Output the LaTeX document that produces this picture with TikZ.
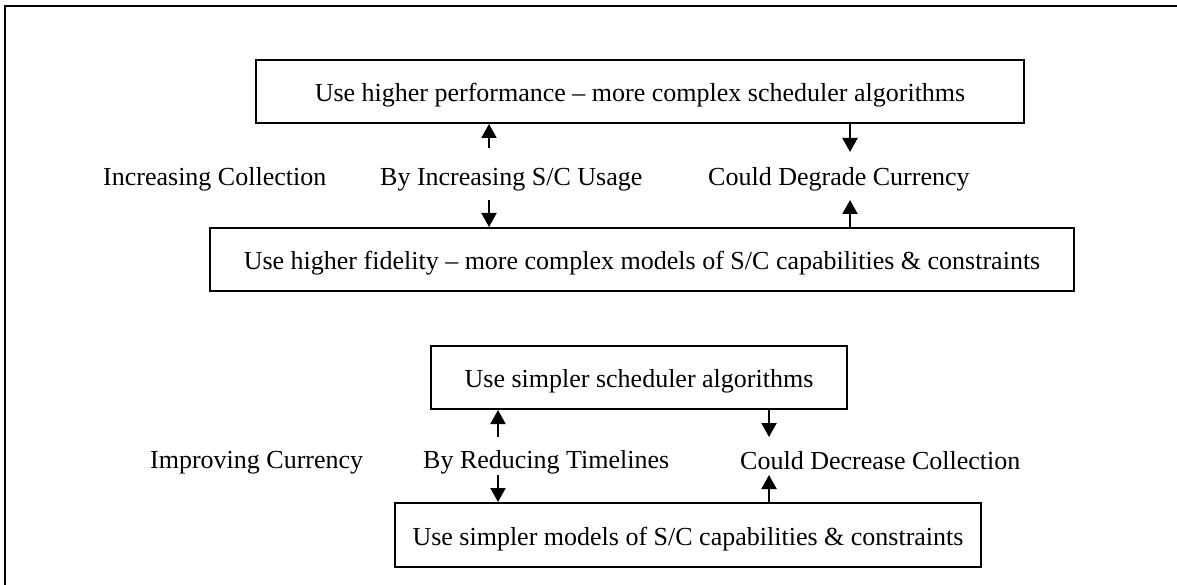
\documentclass[tikz,border=0pt]{standalone}
\usepackage{fontspec}
\setmainfont{Liberation Serif}
\usetikzlibrary{arrows.meta}
\begin{document}
\begin{tikzpicture}[x=1pt,y=-1pt,
  font=\fontsize{26}{30}\selectfont,
  box/.style={draw, line width=2pt, inner sep=0pt, text height=20pt, text depth=0pt, minimum height=63pt},
  lbl/.style={anchor=base west, inner sep=0pt},
  arr/.style={line width=2pt, -{Triangle[width=15pt,length=14pt]}},
  frame/.style={line width=2pt}]
\useasboundingbox (0,0) rectangle (1177,585);

% partial frame (top and left edges)
\draw[frame] (5,585) -- (5,6) -- (1177,6);

% upper group: increasing collection
\node[box, minimum width=768pt] (hiperf) at (640,91.5) {Use higher performance -- more complex scheduler algorithms};
\node[box, minimum width=864pt] (hifid) at (642,259.5) {Use higher fidelity -- more complex models of S/C capabilities \& constraints};

\node[lbl] (inccoll) at (103,186) {Increasing Collection};
\node[lbl] (incuse) at (380,186) {By Increasing S/C Usage};
\node[lbl] (degcur) at (708,186) {Could Degrade Currency};

\coordinate (u1) at (489,148);
\coordinate (u2) at (489,200);
\coordinate (u3) at (850,152);
\coordinate (u4) at (850,200);
\draw[arr] (u1) -- (hiperf.south -| u1);
\draw[arr] (u2) -- (hifid.north -| u2);
\draw[arr] (hiperf.south -| u3) -- (u3);
\draw[arr] (hifid.north -| u4) -- (u4);

% lower group: improving currency
\node[box, minimum width=416pt] (simsched) at (639,377.5) {Use simpler scheduler algorithms};
\node[box, minimum width=586pt, minimum height=64pt] (simmod) at (688,535) {Use simpler models of S/C capabilities \& constraints};

\node[lbl] (impcur) at (150,468) {Improving Currency};
\node[lbl] (redtime) at (423,468) {By Reducing Timelines};
\node[lbl] (deccoll) at (740,469) {Could Decrease Collection};

\coordinate (l1) at (498,437);
\coordinate (l2) at (498,475);
\coordinate (l3) at (769,437);
\coordinate (l4) at (769,475);
\draw[arr] (l1) -- (simsched.south -| l1);
\draw[arr] (l2) -- (simmod.north -| l2);
\draw[arr] (simsched.south -| l3) -- (l3);
\draw[arr] (simmod.north -| l4) -- (l4);
\end{tikzpicture}
\end{document}
